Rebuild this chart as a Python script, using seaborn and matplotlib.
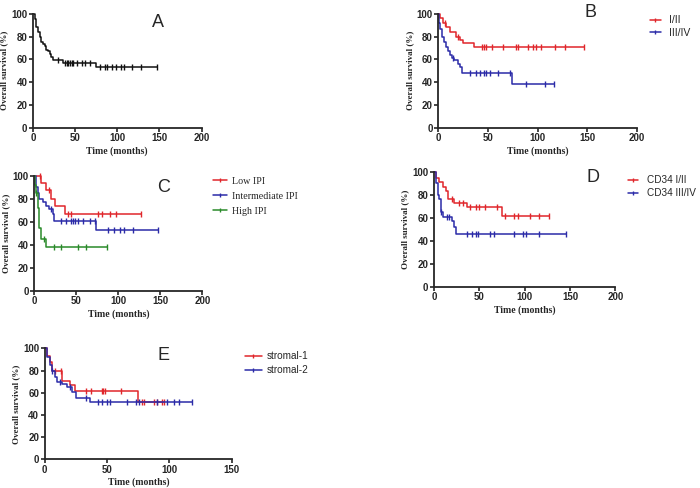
import numpy as np
import pandas as pd
import seaborn as sns
import matplotlib.pyplot as plt
from matplotlib.lines import Line2D

# Kaplan-Meier curves: step times, survival (%) after each step, last follow-up, censor times
# Panel A
a_t = [0, 2, 4, 6, 8, 10, 12, 14, 16, 18, 20, 22, 24, 36, 75]
a_s = [100, 95, 88, 84, 80, 75, 73, 72, 68, 67, 65, 62, 59, 57, 53]
a_end = 147
a_cens = [30, 38, 40, 42, 44, 46, 48, 52, 58, 62, 68, 80, 86, 88, 94, 98, 104, 108, 118, 128]

# Panel B
b1_t = [0, 2, 5, 8, 12, 18, 22, 25, 36]
b1_s = [100, 96, 92, 88, 84, 80, 77, 74, 71]
b1_end = 147
b1_cens = [7, 20, 44, 46, 48, 54, 65, 78, 80, 90, 95, 98, 103, 118, 128]
b2_t = [0, 1, 2, 4, 6, 8, 10, 12, 14, 16, 20, 22, 24, 74]
b2_s = [100, 92, 87, 80, 75, 71, 67, 64, 61, 59, 56, 53, 48, 38]
b2_end = 117
b2_cens = [15, 32, 38, 42, 46, 48, 52, 60, 72, 88, 107]

# Panel C
c1_t = [0, 8, 14, 20, 25, 36]
c1_s = [100, 94, 88, 80, 74, 67]
c1_end = 127
c1_cens = [7, 17, 40, 44, 76, 80, 90, 97]
c2_t = [0, 2, 4, 6, 10, 14, 18, 22, 24, 74]
c2_s = [100, 90, 85, 80, 77, 74, 71, 67, 61, 53]
c2_end = 147
c2_cens = [20, 32, 38, 44, 46, 48, 52, 58, 66, 72, 88, 95, 102, 107, 118]
c3_t = [0, 1, 2, 4, 5, 6, 8, 14]
c3_s = [100, 92, 85, 72, 63, 55, 45, 38]
c3_end = 87
c3_cens = [2, 11, 24, 32, 52, 62]

# Panel D
d1_t = [0, 2, 5, 10, 13, 15, 22, 36, 75]
d1_s = [100, 95, 91, 87, 83, 76, 73, 69, 62]
d1_end = 127
d1_cens = [20, 28, 32, 40, 46, 50, 56, 70, 78, 88, 93, 106, 116]
d2_t = [0, 2, 4, 6, 8, 10, 20, 22, 24]
d2_s = [100, 90, 80, 76, 65, 61, 57, 52, 46]
d2_end = 146
d2_cens = [8, 14, 17, 36, 42, 46, 48, 62, 66, 88, 98, 102, 116]

# Panel E
e1_t = [0, 2, 4, 6, 14, 20, 24, 75]
e1_s = [100, 93, 88, 80, 71, 67, 62, 52]
e1_end = 96
e1_cens = [8, 13, 33, 37, 46, 47, 48, 61, 78, 80, 88, 90, 94]
e2_t = [0, 2, 4, 6, 8, 10, 14, 18, 22, 25, 36]
e2_s = [100, 92, 85, 80, 74, 70, 68, 65, 61, 55, 52]
e2_end = 118
e2_cens = [6, 12, 20, 33, 43, 46, 50, 52, 66, 73, 76, 90, 98, 104, 108]

RED = "#e0262b"
BLUE = "#2b2ba8"
GREEN = "#2a8a2a"
BLACK = "#111111"

sns.set_style("ticks")
plt.rcParams["font.family"] = ["Liberation Sans", "DejaVu Sans"]

fig = plt.figure(figsize=(7, 4.88), dpi=100)


def km(ax, t, s, end, cens, color):
    tt = list(t) + [end]
    ss = list(s) + [s[-1]]
    df = pd.DataFrame({"time": tt, "surv": ss})
    sns.lineplot(data=df, x="time", y="surv", ax=ax, drawstyle="steps-post",
                 color=color, lw=1.1, clip_on=False)
    cx = list(cens) + [end]
    idx = np.searchsorted(np.array(t), np.array(cx), side="right") - 1
    cy = np.array(s)[idx]
    ax.plot(cx, cy, ls="none", marker="|", ms=4, mew=1.0, color=color, clip_on=False)


def style(ax, xmax, ylabel_size=6.5):
    ax.set_xlim(0, xmax)
    ax.set_ylim(0, 100)
    ax.set_xticks(np.arange(0, xmax + 1, 50))
    ax.set_yticks([0, 20, 40, 60, 80, 100])
    sns.despine(ax=ax)
    for sp in ["left", "bottom"]:
        ax.spines[sp].set_linewidth(1.3)
    ax.tick_params(length=3, width=1.2, labelsize=7, pad=1)
    for lab in ax.get_xticklabels() + ax.get_yticklabels():
        lab.set_fontweight("bold")
    ax.set_xlabel("Time (months)", family="Liberation Serif", weight="bold",
                  fontsize=7, labelpad=2)
    ax.set_ylabel("Overall survival (%)", family="Liberation Serif", weight="bold",
                  fontsize=ylabel_size, labelpad=2)


def legend(ax, labels, colors, anchor, serif=False, size=7, spacing=0.4,
           hlen=1.7, hpad=0.5):
    handles = [Line2D([0], [0], color=c, lw=1.1, marker="|", ms=3.5, mew=1.0)
               for c in colors]
    fam = "Liberation Serif" if serif else "Liberation Sans"
    ax.legend(handles, labels, loc="upper left", bbox_to_anchor=anchor, frameon=False,
              handlelength=hlen, handletextpad=hpad, labelspacing=spacing,
              borderpad=0, borderaxespad=0,
              prop={"family": fam, "size": size})


# A
axA = fig.add_axes([0.047, 0.738, 0.241, 0.234])
km(axA, a_t, a_s, a_end, a_cens, BLACK)
style(axA, 200)
axA.text(148, 92, "A", fontsize=13, ha="center", va="center")

# B
axB = fig.add_axes([0.626, 0.738, 0.284, 0.234])
km(axB, b1_t, b1_s, b1_end, b1_cens, RED)
km(axB, b2_t, b2_s, b2_end, b2_cens, BLUE)
style(axB, 200)
axB.text(153, 101, "B", fontsize=13, ha="center", va="center")
legend(axB, ["I/II", "III/IV"], [RED, BLUE], (1.065, 0.985), size=7.5, spacing=0.25,
       hlen=1.05, hpad=0.8)

# C
axC = fig.add_axes([0.049, 0.404, 0.24, 0.236])
km(axC, c1_t, c1_s, c1_end, c1_cens, RED)
km(axC, c2_t, c2_s, c2_end, c2_cens, BLUE)
km(axC, c3_t, c3_s, c3_end, c3_cens, GREEN)
style(axC, 200)
axC.text(154, 90, "C", fontsize=13, ha="center", va="center")
legend(axC, ["Low IPI", "Intermediate IPI", "High IPI"], [RED, BLUE, GREEN],
       (1.065, 0.99), serif=True, size=7.2, spacing=0.6, hlen=1.4, hpad=0.5)

# D
axD = fig.add_axes([0.62, 0.412, 0.259, 0.236])
km(axD, d1_t, d1_s, d1_end, d1_cens, RED)
km(axD, d2_t, d2_s, d2_end, d2_cens, BLUE)
style(axD, 200)
axD.text(175, 95, "D", fontsize=13, ha="center", va="center")
legend(axD, ["CD34 I/II", "CD34 III/IV"], [RED, BLUE], (1.072, 0.97), size=7.2,
       spacing=0.3, hlen=0.95, hpad=0.9)

# E
axE = fig.add_axes([0.064, 0.059, 0.267, 0.227])
km(axE, e1_t, e1_s, e1_end, e1_cens, RED)
km(axE, e2_t, e2_s, e2_end, e2_cens, BLUE)
style(axE, 150)
axE.text(95, 94, "E", fontsize=13, ha="center", va="center")
legend(axE, ["stromal-1", "stromal-2"], [RED, BLUE], (1.07, 0.975), size=7.2, spacing=0.4)

fig.savefig("out.png", dpi=100)
